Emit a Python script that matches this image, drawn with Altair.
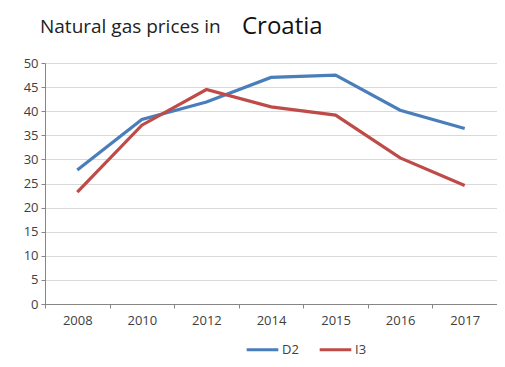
import altair as alt
import pandas as pd

years = ["2008", "2010", "2012", "2014", "2015", "2016", "2017"]
d2 = [27.8, 38.3, 41.9, 47.0, 47.5, 40.2, 36.4]
i3 = [23.2, 37.1, 44.5, 40.9, 39.2, 30.3, 24.6]
series = ["D2", "I3"]
colors = ["#4a7ebb", "#be4b48"]

rows = []
for y, v in zip(years, d2):
    rows.append({"year": y, "value": v, "series": "D2"})
for y, v in zip(years, i3):
    rows.append({"year": y, "value": v, "series": "I3"})
df = pd.DataFrame(rows)

FONT = "Open Sans"

lines = alt.Chart(df).mark_line(strokeWidth=3.2).encode(
    x=alt.X("year:O", sort=years, title=None, bandPosition=0.5,
            scale=alt.Scale(type="band", paddingInner=0, paddingOuter=0),
            axis=alt.Axis(labelAngle=0, tickBand="extent", grid=False,
                          domainColor="#868686", tickColor="#868686", tickSize=4,
                          labelFont=FONT, labelFontSize=13, labelColor="#404040", labelPadding=6)),
    y=alt.Y("value:Q", title=None,
            scale=alt.Scale(domain=[0, 50], nice=False),
            axis=alt.Axis(values=list(range(0, 55, 5)), gridColor="#d9d9d9",
                          domainColor="#868686", tickColor="#868686", tickSize=4,
                          labelFont=FONT, labelFontSize=13, labelColor="#404040", labelPadding=3)),
    color=alt.Color("series:N", scale=alt.Scale(domain=series, range=colors),
                    legend=alt.Legend(title=None, orient="none", direction="horizontal",
                                      legendX=200, legendY=269,
                                      symbolType="stroke", symbolSize=1000, symbolStrokeWidth=3,
                                      labelFont=FONT, labelFontSize=13, labelColor="#404040",
                                      columnPadding=14, labelOffset=2)),
)

t1 = alt.Chart(pd.DataFrame({"t": ["Natural gas prices in"]})).mark_text(
    font=FONT, fontSize=19, align="left", baseline="middle", color="#222222"
).encode(x=alt.value(-5), y=alt.value(-36), text="t:N")

t2 = alt.Chart(pd.DataFrame({"t": ["Croatia"]})).mark_text(
    font=FONT, fontSize=24, align="left", baseline="middle", color="#111111"
).encode(x=alt.value(197), y=alt.value(-36), text="t:N")

chart = alt.layer(lines, t1, t2).properties(
    width=452, height=241,
    autosize=alt.AutoSizeParams(type="none"),
    padding={"left": 37, "top": 55, "right": 0, "bottom": 55},
).configure_view(stroke=None).configure(background="white")

chart.save("out.html", embed_options={"renderer": "svg", "actions": False})
